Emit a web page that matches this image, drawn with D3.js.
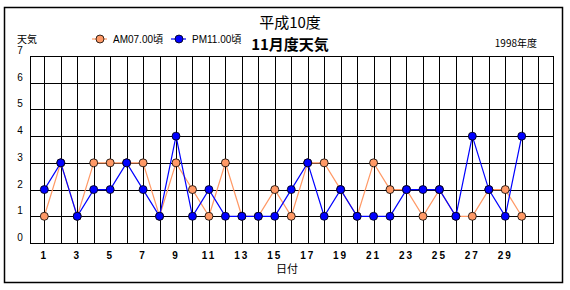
<!DOCTYPE html>
<html>
<head>
<meta charset="utf-8">
<script src="https://cdn.jsdelivr.net/npm/d3@7"></script>
<style>
  body { margin: 0; background: #fff; }
  text { font-family: 'Liberation Sans', Arial, 'Noto Sans CJK JP', sans-serif; }
  .jp { font-family: 'Noto Sans CJK JP', sans-serif; }
</style>
</head>
<body>
<div id="chart"></div>
<script>
// days of November
let days = d3.range(1, 31)
let amWeather = [1,3,1,3,3,3,3,1,3,2,1,3,1,1,2,1,3,3,2,1,3,2,2,1,2,1,1,2,2,1]
let pmWeather = [2,3,1,2,2,3,2,1,4,1,2,1,1,1,1,2,3,1,2,1,1,1,2,2,2,1,4,2,1,4]
let yTicks = [0,1,2,3,4,5,6,7]
let xTickLabels = d3.range(1, 31, 2)
let seriesNames = ['AM07.00頃', 'PM11.00頃']

let width = 570
let height = 290
let plot = { left: 30, right: 553, top: 56, bottom: 243 }

let svg = d3.select('#chart')
  .append('svg')
  .attr('width', width)
  .attr('height', height)
  .style('background', '#fff')

// outer frame
svg.append('rect')
  .attr('x', 4.5).attr('y', 7.5)
  .attr('width', 558).attr('height', 275)
  .attr('fill', 'none')
  .attr('stroke', '#000')
  .attr('stroke-width', 1.5)

let x = d3.scaleLinear().domain([0.13, 31.9]).range([plot.left, plot.right])
let y = d3.scaleLinear().domain([0, 7]).range([plot.bottom, plot.top])

let grid = svg.append('g').attr('shape-rendering', 'crispEdges')

grid.selectAll('.hline')
  .data(yTicks)
  .enter().append('line')
  .attr('x1', plot.left).attr('x2', plot.right)
  .attr('y1', d => Math.round(y(d)) + 0.5).attr('y2', d => Math.round(y(d)) + 0.5)
  .attr('stroke', '#000')

grid.selectAll('.vline')
  .data(d3.range(1, 32))
  .enter().append('line')
  .attr('x1', d => Math.round(x(d)) + 0.5).attr('x2', d => Math.round(x(d)) + 0.5)
  .attr('y1', plot.top).attr('y2', plot.bottom)
  .attr('stroke', '#000')

// left and right edges of plot
grid.append('line')
  .attr('x1', plot.left + 0.5).attr('x2', plot.left + 0.5)
  .attr('y1', plot.top).attr('y2', plot.bottom + 1)
  .attr('stroke', '#000')
grid.append('line')
  .attr('x1', plot.right + 0.5).attr('x2', plot.right + 0.5)
  .attr('y1', plot.top).attr('y2', plot.bottom + 1)
  .attr('stroke', '#000')

// y labels
svg.selectAll('.ylab')
  .data(yTicks)
  .enter().append('text')
  .attr('x', 20)
  .attr('y', d => y(d) - 2)
  .attr('text-anchor', 'middle')
  .attr('font-size', 10)
  .text(d => d)

// x labels
svg.selectAll('.xlab')
  .data(xTickLabels)
  .enter().append('text')
  .attr('x', d => x(d))
  .attr('y', 259)
  .attr('text-anchor', 'middle')
  .attr('font-size', 10)
  .attr('font-weight', 'bold')
  .attr('letter-spacing', 2)
  .text(d => d)

let colors = ['#FF9966', '#0000FF']
let series = [amWeather, pmWeather]

let line = d3.line()
  .x((d, i) => x(days[i]))
  .y(d => y(d))

series.forEach((s, k) => {
  svg.append('path')
    .datum(s)
    .attr('d', line)
    .attr('fill', 'none')
    .attr('stroke', colors[k])
    .attr('stroke-width', 1.2)
  svg.append('g')
    .selectAll('circle')
    .data(s)
    .enter().append('circle')
    .attr('cx', (d, i) => x(days[i]))
    .attr('cy', d => y(d))
    .attr('r', 4)
    .attr('fill', colors[k])
    .attr('stroke', '#000')
    .attr('stroke-width', 0.8)
})

// legend
let legendX = [92, 171]
seriesNames.forEach((name, k) => {
  let g = svg.append('g').attr('transform', 'translate(' + legendX[k] + ',39)')
  g.append('line').attr('x1', 0).attr('x2', 15).attr('y1', 0).attr('y2', 0)
    .attr('stroke', colors[k]).attr('stroke-width', 1.2)
  g.append('circle').attr('cx', 8).attr('r', 4)
    .attr('fill', colors[k]).attr('stroke', '#000').attr('stroke-width', 0.8)
  g.append('text').attr('x', 21).attr('y', 4).attr('font-size', 10).text(name)
})

// titles
svg.append('text').attr('class', 'jp')
  .attr('x', 290).attr('y', 28)
  .attr('text-anchor', 'middle').attr('font-size', 15)
  .text('平成10度')
svg.append('text').attr('class', 'jp')
  .attr('x', 290).attr('y', 50)
  .attr('text-anchor', 'middle').attr('font-size', 15).attr('font-weight', 'bold')
  .text('11月度天気')

svg.append('text').attr('class', 'jp')
  .attr('x', 17).attr('y', 43).attr('font-size', 10)
  .text('天気')
svg.append('text').attr('class', 'jp')
  .attr('x', 537).attr('y', 47).attr('text-anchor', 'end').attr('font-size', 10)
  .text('1998年度')
svg.append('text').attr('class', 'jp')
  .attr('x', 287).attr('y', 273).attr('text-anchor', 'middle').attr('font-size', 11)
  .text('日付')
</script>
</body>
</html>
